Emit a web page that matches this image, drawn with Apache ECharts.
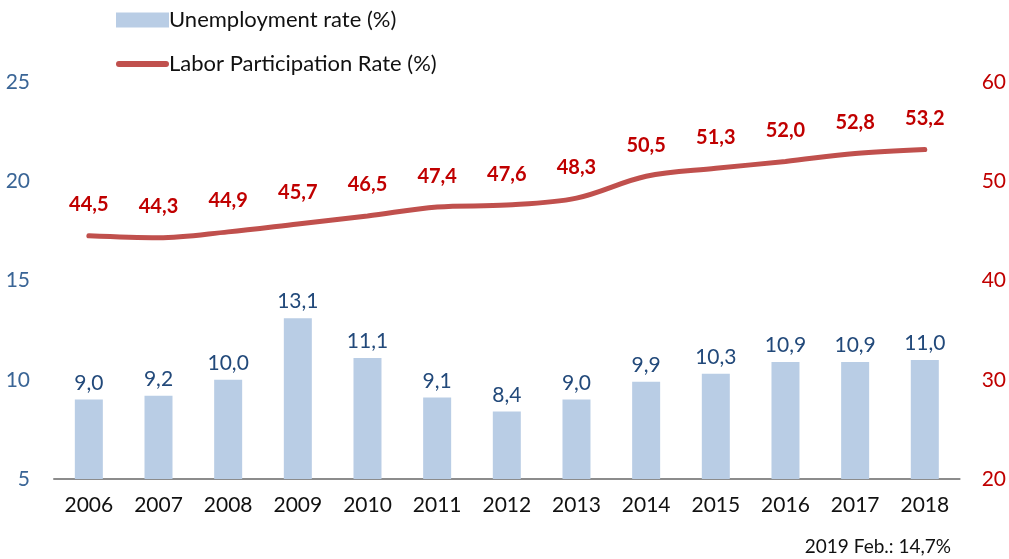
<!DOCTYPE html>
<html>
<head>
<meta charset="utf-8">
<script src="https://cdn.jsdelivr.net/npm/echarts@6/dist/echarts.min.js"></script>
<style>
  html, body { margin: 0; padding: 0; background: #fff; }
  #main { width: 1009px; height: 559px; }
</style>
</head>
<body>
<div id="main"></div>
<script>
// years
var YEARS = ['2006', '2007', '2008', '2009', '2010', '2011', '2012', '2013', '2014', '2015', '2016', '2017', '2018']
// unemployment rate (%)
var UNEMP = [9.0, 9.2, 10.0, 13.1, 11.1, 9.1, 8.4, 9.0, 9.9, 10.3, 10.9, 10.9, 11.0]
// labor participation rate (%)
var LABOR = [44.5, 44.3, 44.9, 45.7, 46.5, 47.4, 47.6, 48.3, 50.5, 51.3, 52.0, 52.8, 53.2]

var FONT = 'Lato, "Open Sans", sans-serif'

// 小数点用逗号
function comma(v) {
  return v.toFixed(1).replace('.', ',')
}

var chart = echarts.init(document.getElementById('main'))

var option = {
  backgroundColor: '#ffffff',
  textStyle: { fontFamily: FONT },
  legend: {
    orient: 'vertical',
    left: 111,
    top: 4,
    itemGap: 22,
    itemWidth: 53,
    itemHeight: 15,
    textStyle: { fontSize: 22, color: '#111', fontFamily: FONT, padding: [0, 0, 0, -5] },
    data: [
      { name: 'Unemployment rate (%)', icon: 'rect' },
      {
        name: 'Labor Participation Rate (%)',
        icon: 'path://M3,0 L51,0 A3,3 0 0 1 51,6 L3,6 A3,3 0 0 1 3,0 Z',
        itemStyle: { color: '#c0504d', opacity: 1 }
      }
    ]
  },
  graphic: [{
    type: 'text',
    right: 58,
    bottom: 3,
    style: { text: '2019 Feb.: 14,7%', fontSize: 19, fill: '#111', fontFamily: FONT }
  }],
  grid: { left: 54, right: 49, top: 82, bottom: 80 },
  xAxis: {
    type: 'category',
    data: YEARS,
    axisLine: { lineStyle: { color: '#8c8c8c', width: 2 } },
    axisTick: { length: 7, lineStyle: { color: '#8c8c8c', width: 2 } },
    axisLabel: { fontSize: 21, color: '#111', margin: 16, fontFamily: FONT }
  },
  yAxis: [{
    type: 'value',
    min: 5,
    max: 25,
    interval: 5,
    position: 'left',
    splitLine: { show: false },
    axisLine: { show: false },
    axisTick: { show: false },
    axisLabel: { fontSize: 21, color: '#3a6596', margin: 24, fontFamily: FONT }
  }, {
    type: 'value',
    min: 20,
    max: 60,
    interval: 10,
    position: 'right',
    splitLine: { show: false },
    axisLine: { show: false },
    axisTick: { show: false },
    axisLabel: { fontSize: 21, color: '#c00000', margin: 22, fontFamily: FONT }
  }],
  series: [{
    name: 'Unemployment rate (%)',
    type: 'bar',
    yAxisIndex: 0,
    barWidth: 28,
    data: UNEMP,
    itemStyle: { color: '#b9cde5' },
    label: {
      show: true,
      position: 'top',
      distance: 6,
      fontSize: 21,
      color: '#22497a',
      fontFamily: FONT,
      formatter: function (p) { return comma(p.value) }
    }
  }, {
    name: 'Labor Participation Rate (%)',
    type: 'line',
    yAxisIndex: 1,
    smooth: 0.35,
    symbol: 'circle',
    symbolSize: 2,
    data: LABOR,
    lineStyle: { color: '#c0504d', width: 5, cap: 'round' },
    itemStyle: { color: '#c0504d' },
    label: {
      show: true,
      position: 'top',
      distance: 20,
      fontSize: 20,
      fontWeight: 'bold',
      color: '#c00000',
      fontFamily: FONT,
      formatter: function (p) { return comma(p.value) }
    }
  }]
}

chart.setOption(option)
</script>
</body>
</html>
